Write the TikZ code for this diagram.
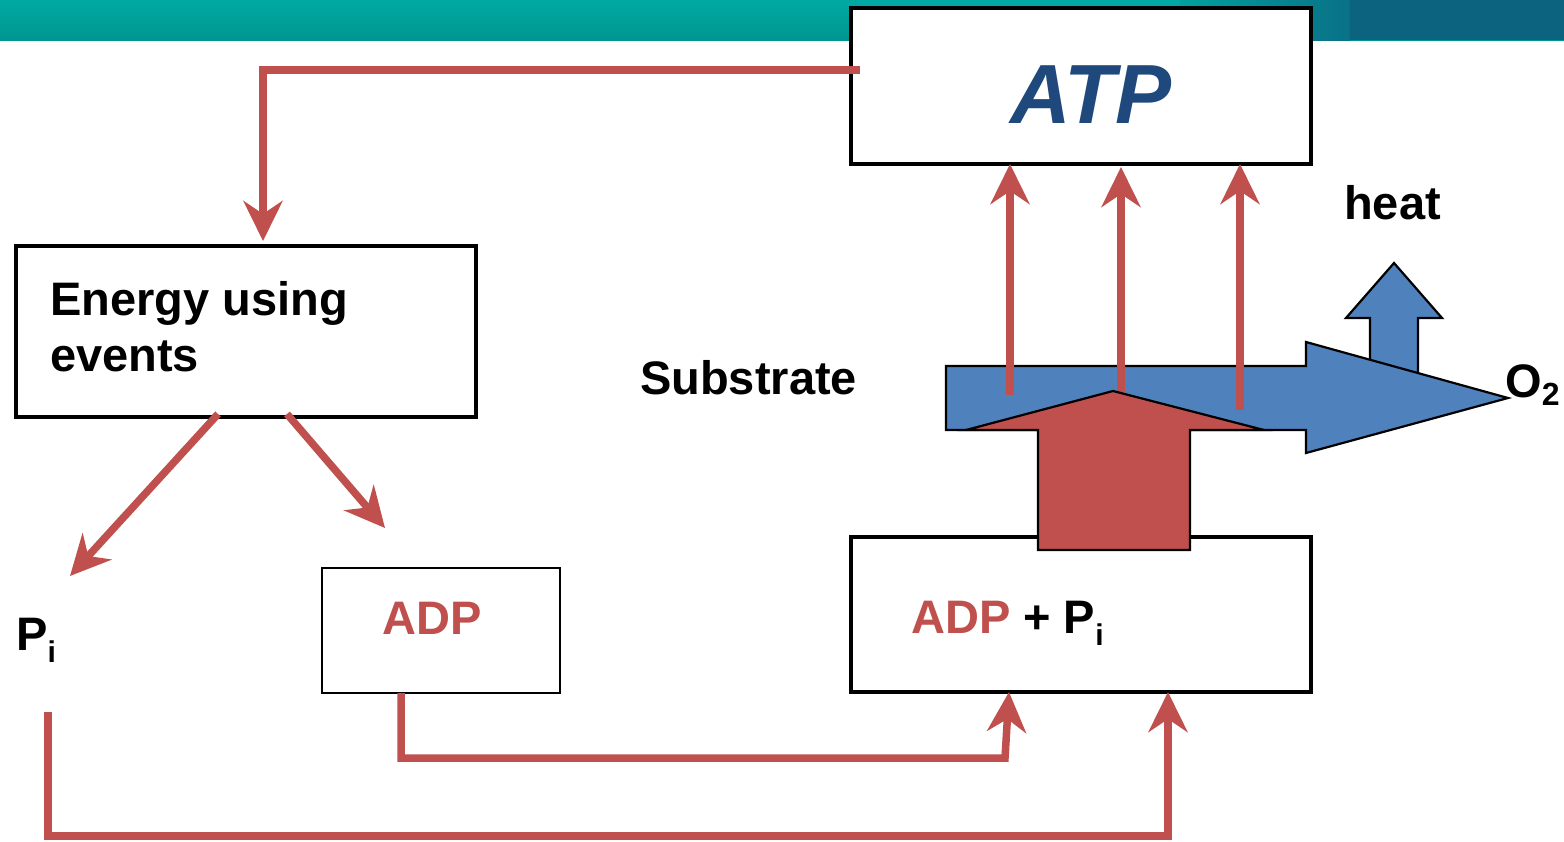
\documentclass[tikz,border=0pt]{standalone}
\usepackage{fontspec}
\setmainfont{Liberation Sans}
\usetikzlibrary{arrows.meta,calc}
\definecolor{rd}{HTML}{C0504D}
\definecolor{bl}{HTML}{4F81BD}
\definecolor{atpblue}{HTML}{1F497D}
\definecolor{tealA}{HTML}{00AAA3}
\definecolor{tealB}{HTML}{009690}
\definecolor{darkt}{HTML}{0B6380}
\begin{document}
\begin{tikzpicture}[x=1pt,y=-1pt,
  box/.style={draw=black,line width=4pt,rectangle,inner sep=0pt,outer sep=0pt,fill=white},
  redline/.style={draw=rd,line width=7.5pt},
  redarrow/.style={redline,-{Stealth[length=40pt,width=39pt,inset=13pt]}},
  lbl/.style={font=\bfseries\fontsize{47pt}{56pt}\selectfont,inner sep=0pt},
  shapeline/.style={draw=black,line width=2.2pt,line join=miter}]
\useasboundingbox (0,0) rectangle (1564,841);
\fill[white] (0,0) rectangle (1564,841);
% banner
\shade[top color=tealA,bottom color=tealB] (0,0) rectangle (1564,40);
\shade[left color=tealA!85!darkt,right color=darkt!80!tealA] (1180,0) rectangle (1350,40);
\fill[darkt] (1350,0) rectangle (1564,40);
% boxes
\node[box,minimum width=460pt,minimum height=156pt] (atp) at (1081,86) {};
\node[inner sep=0pt,anchor=base,text=atpblue,font=\bfseries\itshape\fontsize{84pt}{90pt}\selectfont] (atptxt) at (1091,123) {ATP};
\node[box,minimum width=460pt,minimum height=171pt] (energy) at (246,331.5) {};
\node[lbl,anchor=base west] (ev1) at (50,315) {Energy using};
\node[lbl,anchor=base west] (ev2) at (50,371) {events};
\node[box,line width=2.6pt,minimum width=238pt,minimum height=125pt] (adp) at (441,630.5) {};
\node[lbl,anchor=base,text=rd] (adptxt) at (432,634) {ADP};
\node[box,minimum width=460pt,minimum height=155pt] (adpp) at (1081,614.5) {};
\node[lbl,anchor=base west] (adpptxt) at (911,633) {\textcolor{rd}{ADP} + P\raisebox{-12pt}{\fontsize{30pt}{30pt}\selectfont i}};
% labels
\node[lbl,anchor=base west] (pi) at (16,650) {P\raisebox{-12pt}{\fontsize{30pt}{30pt}\selectfont i}};
\node[lbl,anchor=base west] (sub) at (640,394) {Substrate};
\node[lbl,anchor=base west] (heat) at (1344,219) {heat};
\node[lbl,anchor=base west] (o2) at (1505,397) {O\raisebox{-8pt}{\fontsize{32pt}{32pt}\selectfont 2}};
% heat arrow
\draw[shapeline,fill=bl] (1370,385) -- (1370,318) -- (1346,318) -- (1394,263) -- (1442,318) -- (1418,318) -- (1418,385) -- cycle;
% blue arrow
\draw[shapeline,fill=bl] (946,366) -- (1306,366) -- (1306,342) -- (1508,398) -- (1306,453) -- (1306,430) -- (946,430) -- cycle;
% coordinates
\coordinate (s1) at (1010,395);
\coordinate (s2) at (1121,393);
\coordinate (s3) at (1240,410);
\coordinate (pitip) at (70,576);
\coordinate (adptip) at (385,528);
\coordinate (pistart) at (48,712);
\coordinate (atpout) at (860,70);
\coordinate (adpcorner) at (1005,758);
\coordinate (picorner) at (1168,836);
% ATP up arrows
\draw[redarrow] (s1) -- (s1 |- atp.south);
\draw[redarrow] (s2) -- ($(s2 |- atp.south)+(0,3)$);
\draw[redarrow] (s3) -- (s3 |- atp.south);
% big red arrow
\draw[shapeline,fill=rd] (1038,550) -- (1038,430) -- (966,430) -- (1113,391) -- (1264,430) -- (1190,430) -- (1190,550) -- cycle;
% ATP to energy
\draw[redarrow] (atpout) -| ($(energy.north west)+(247,-5)$);
% energy to Pi and ADP
\draw[redarrow] ($(energy.south west)+(202,-3)$) -- (pitip);
\draw[redarrow] ($(energy.south west)+(271,-3)$) -- (adptip);
% ADP to ADP+Pi
\draw[redarrow] ($(adp.south west)+(79,0)$) |- (adpcorner) -- ($(adpp.south west)+(158,0)$);
% Pi to ADP+Pi
\draw[redarrow] (pistart) |- (picorner) -- (picorner |- adpp.south);
\end{tikzpicture}
\end{document}
